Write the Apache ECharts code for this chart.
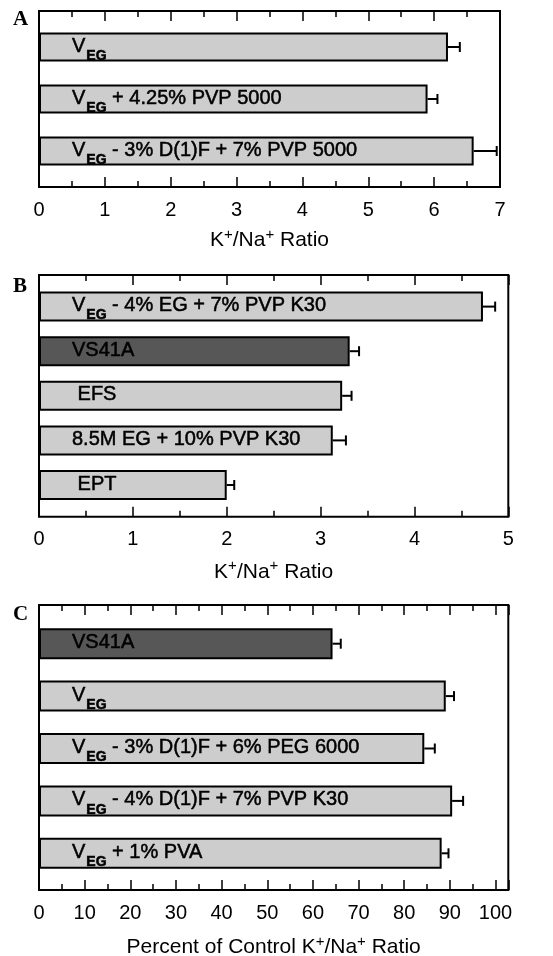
<!DOCTYPE html>
<html>
<head>
<meta charset="utf-8">
<script src="https://cdn.jsdelivr.net/npm/echarts@6/dist/echarts.min.js"></script>
<style>
html,body{margin:0;padding:0;background:#fff;}
#c{width:553px;height:956px;}
</style>
</head>
<body>
<div id="c"></div>
<script>
// ---------- data ----------
const catsA = ['VEG', 'VEG + 4.25% PVP 5000', 'VEG - 3% D(1)F + 7% PVP 5000'];
const valsA = [6.21, 5.90, 6.60];
const errsA = [0.18, 0.15, 0.35];
const ticksA = [0, 1, 2, 3, 4, 5, 6, 7];
const maxA = 7;
const nameA = 'K+/Na+ Ratio';

const catsB = ['VEG - 4% EG + 7% PVP K30', 'VS41A', 'EFS', '8.5M EG + 10% PVP K30', 'EPT'];
const valsB = [4.73, 3.31, 3.23, 3.13, 2.00];
const errsB = [0.13, 0.10, 0.10, 0.14, 0.08];
const ticksB = [0, 1, 2, 3, 4, 5];
const maxB = 5;
const nameB = 'K+/Na+ Ratio';

const catsC = ['VS41A', 'VEG', 'VEG - 3% D(1)F + 6% PEG 6000', 'VEG - 4% D(1)F + 7% PVP K30', 'VEG + 1% PVA'];
const valsC = [64.3, 89.1, 84.4, 90.5, 88.2];
const errsC = [1.8, 1.8, 2.3, 2.4, 1.5];
const ticksC = [0, 10, 20, 30, 40, 50, 60, 70, 80, 90, 100];
const maxC = 102.8;
const nameC = 'Percent of Control K+/Na+ Ratio';

// ---------- styling / layout ----------
const FONT = '"Liberation Sans", Arial, Helvetica, sans-serif';
const LIGHT = '#cdcdcd';
const DARK = '#575757';
const controlName = 'VS41A';
const indented = new Set(['EFS', 'EPT']);

const panels = [
  {letter: 'A', letterTop: 9, cats: catsA, vals: valsA, errs: errsA, ticks: ticksA, max: maxA, name: nameA,
   outer: {left: 39, top: 11, width: 461, height: 176}, inner: {top: 21, height: 156}, barWidth: 29, nameGap: 40},
  {letter: 'B', letterTop: 276, cats: catsB, vals: valsB, errs: errsB, ticks: ticksB, max: maxB, name: nameB,
   outer: {left: 39, top: 275, width: 469.3, height: 241.7}, inner: {top: 284.3, height: 223}, barWidth: 30, nameGap: 42},
  {letter: 'C', letterTop: 604, cats: catsC, vals: valsC, errs: errsC, ticks: ticksC, max: maxC, name: nameC,
   outer: {left: 39, top: 605, width: 469.3, height: 285}, inner: {top: 617.5, height: 262}, barWidth: 31, nameGap: 44}
];

function barLabel(name) {
  const pad = indented.has(name) ? '{i| }' : '';
  const m = name.match(/^VEG(.*)$/);
  if (m) return '{v|V}{s|EG}' + (m[1] ? '{t|' + m[1] + '}' : '');
  return pad + '{t|' + name + '}';
}
function axisName(name) {
  return name.split('+').map(p => '{n|' + p + '}').join('{p|+}');
}

const thick = {textBorderColor: '#000', textBorderWidth: 0.5};
const barRich = {
  v: Object.assign({fontSize: 20, fontFamily: FONT, color: '#000'}, thick),
  t: Object.assign({fontSize: 20, fontFamily: FONT, color: '#000'}, thick),
  i: {fontSize: 20, fontFamily: FONT, color: '#000'},
  s: Object.assign({fontSize: 14, fontFamily: FONT, fontWeight: 'bold', color: '#000', padding: [20, 0, 0, 1]}, thick)
};
const nameRich = {
  n: {fontSize: 21, fontFamily: FONT, color: '#000'},
  p: {fontSize: 15, fontFamily: FONT, color: '#000', padding: [0, 0, 12, 0]}
};

const grid = [], xAxis = [], yAxis = [], series = [], title = [];

panels.forEach((p, k) => {
  const step = p.ticks[1] - p.ticks[0];
  const og = grid.length;
  grid.push(Object.assign({show: true, borderColor: '#000', borderWidth: 2, backgroundColor: 'transparent', outerBoundsMode: 'none', containLabel: false}, p.outer));
  const ig = grid.length;
  grid.push({left: p.outer.left, width: p.outer.width, top: p.inner.top, height: p.inner.height, show: false, outerBoundsMode: 'none', containLabel: false});

  title.push({text: p.letter, left: 13, top: p.letterTop, padding: 0,
    textStyle: {fontFamily: '"Liberation Serif", "Times New Roman", serif', fontWeight: 'bold', fontSize: 21, color: '#000'}});

  const base = {gridIndex: og, type: 'value', min: 0, max: p.max,
    axisLine: {show: false, onZero: false}, splitLine: {show: false}, minorSplitLine: {show: false}};
  // major ticks + labels (bottom)
  xAxis.push(Object.assign({}, base, {position: 'bottom', interval: step,
    axisTick: {show: true, inside: true, length: 10, lineStyle: {color: '#000', width: 1.5}},
    axisLabel: {show: true, margin: 13, fontSize: 20, fontFamily: FONT, color: '#000',
      formatter: v => (p.ticks.indexOf(v) >= 0 ? String(v) : '')},
    name: axisName(p.name), nameLocation: 'middle', nameGap: p.nameGap,
    nameTextStyle: {rich: nameRich}}));
  // minor ticks (bottom)
  xAxis.push(Object.assign({}, base, {position: 'bottom', interval: step / 2,
    axisTick: {show: true, inside: true, length: 6, lineStyle: {color: '#000', width: 1.5}},
    axisLabel: {show: false}}));
  // major ticks (top)
  xAxis.push(Object.assign({}, base, {position: 'top', interval: step,
    axisTick: {show: true, inside: true, length: 10, lineStyle: {color: '#000', width: 1.5}},
    axisLabel: {show: false}}));
  // minor ticks (top)
  xAxis.push(Object.assign({}, base, {position: 'top', interval: step / 2,
    axisTick: {show: true, inside: true, length: 6, lineStyle: {color: '#000', width: 1.5}},
    axisLabel: {show: false}}));
  yAxis.push({gridIndex: og, type: 'value', min: 0, max: 1, show: false});

  // inner axes for bars
  const ix = xAxis.length;
  xAxis.push({gridIndex: ig, type: 'value', min: 0, max: p.max, show: false});
  const iy = yAxis.length;
  yAxis.push({gridIndex: ig, type: 'category', data: p.cats, inverse: true, show: false});

  series.push({
    type: 'bar', xAxisIndex: ix, yAxisIndex: iy, barWidth: p.barWidth, z: 2,
    data: p.vals.map((v, i) => ({value: v, itemStyle: {color: p.cats[i] === controlName ? DARK : LIGHT}})),
    itemStyle: {borderColor: '#000', borderWidth: 2},
    label: {show: true, position: 'insideLeft', distance: 0, offset: [33, -1],
      formatter: prm => barLabel(prm.name), rich: barRich},
    emphasis: {disabled: true},
    animation: false
  });
  series.push({
    type: 'custom', xAxisIndex: ix, yAxisIndex: iy, z: 3, animation: false,
    data: p.vals.map((v, i) => [v, p.errs[i], i]),
    encode: {x: 0, y: 2},
    renderItem: (params, api) => {
      const v = api.value(0), e = api.value(1), i = api.value(2);
      const p0 = api.coord([v, i]);
      const p1 = api.coord([v + e, i]);
      return {type: 'group', children: [
        {type: 'line', shape: {x1: p0[0], y1: p0[1], x2: p1[0], y2: p1[1]}, style: {stroke: '#000', lineWidth: 2}},
        {type: 'line', shape: {x1: p1[0], y1: p1[1] - 5, x2: p1[0], y2: p1[1] + 5}, style: {stroke: '#000', lineWidth: 2}}
      ]};
    }
  });
});

const chart = echarts.init(document.getElementById('c'), null, {renderer: 'canvas'});
chart.setOption({
  animation: false,
  backgroundColor: '#fff',
  textStyle: {fontFamily: FONT},
  title, grid, xAxis, yAxis, series
});
</script>
</body>
</html>
